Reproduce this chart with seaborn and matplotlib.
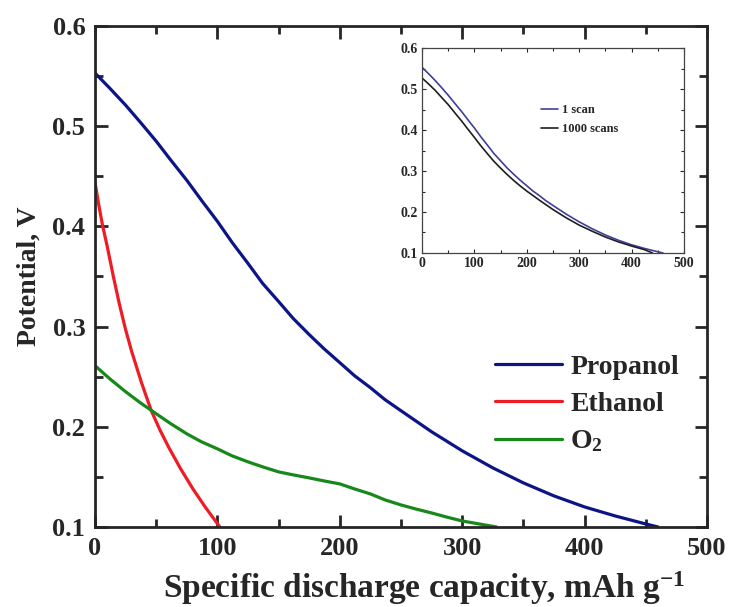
import numpy as np
import pandas as pd
import matplotlib
matplotlib.use('Agg')
import matplotlib.pyplot as plt
from matplotlib.ticker import MultipleLocator
import seaborn as sns

# -----------------------
# data

propanol_x = [0, 12, 25, 37, 50, 62, 75, 87, 100, 112, 125, 137, 150, 162, 175, 187, 200, 212, 225, 237,
	250, 275, 300, 325, 350, 375, 400, 425, 450, 460]
propanol_y = [0.553, 0.538, 0.521, 0.504, 0.485, 0.466, 0.446, 0.426, 0.405, 0.384, 0.363, 0.343, 0.325,
	0.308, 0.292, 0.278, 0.264, 0.251, 0.239, 0.227, 0.216, 0.195, 0.176, 0.159, 0.144, 0.131, 0.120,
	0.111, 0.103, 0.100]

ethanol_x = [0, 3, 6, 10, 15, 20, 25, 30, 38, 46, 53, 60, 70, 80, 90, 102]
ethanol_y = [0.444, 0.422, 0.402, 0.380, 0.350, 0.322, 0.297, 0.275, 0.244, 0.216, 0.197, 0.180,
	0.158, 0.138, 0.120, 0.100]

o2_x = [0, 12, 25, 37, 50, 62, 75, 87, 100, 112, 125, 137, 150, 162, 175, 187, 200, 212, 225, 237,
	250, 262, 275, 287, 300, 314, 328]
o2_y = [0.261, 0.248, 0.235, 0.224, 0.213, 0.203, 0.193, 0.185, 0.178, 0.171, 0.165, 0.160, 0.155,
	0.152, 0.149, 0.146, 0.143, 0.138, 0.133, 0.127, 0.122, 0.118, 0.114, 0.110, 0.106, 0.103, 0.100]

# inset: cycling
scan1_x = propanol_x
scan1_y = propanol_y
scan1000_x = [0, 12, 25, 37, 50, 62, 75, 87, 100, 112, 125, 137, 150, 162, 175, 187, 200, 225,
	250, 275, 300, 325, 350, 375, 400, 425, 440]
scan1000_y = [0.527, 0.513, 0.497, 0.480, 0.462, 0.443, 0.423, 0.403, 0.382, 0.362, 0.342, 0.324,
	0.307, 0.292, 0.277, 0.264, 0.251, 0.228, 0.206, 0.186, 0.168, 0.153, 0.139, 0.127, 0.117,
	0.108, 0.100]

# -----------------------

sns.set_style('ticks')
plt.rcParams['font.family'] = ['Liberation Serif', 'DejaVu Serif']
plt.rcParams['font.weight'] = 'bold'
plt.rcParams['mathtext.fontset'] = 'custom'
plt.rcParams['mathtext.rm'] = 'Liberation Serif:bold'
plt.rcParams['mathtext.it'] = 'Liberation Serif:bold'
plt.rcParams['mathtext.bf'] = 'Liberation Serif:bold'
plt.rcParams['axes.linewidth'] = 2.0

def to_df(series):
	parts = []
	for name, xs, ys in series:
		parts.append(pd.DataFrame({'cap': xs, 'pot': ys, 'fuel': name}))
	return pd.concat(parts, ignore_index=True)

df = to_df([('Propanol', propanol_x, propanol_y),
	('Ethanol', ethanol_x, ethanol_y),
	('O$_2$', o2_x, o2_y)])

df_in = to_df([('1 scan', scan1_x, scan1_y),
	('1000 scans', scan1000_x, scan1000_y)])

fig = plt.figure(figsize=(7.33, 6.07), dpi=100)
ax = fig.add_axes([0.1296, 0.1318, 0.835, 0.8254])

palette = {'Propanol': '#0c1585', 'Ethanol': '#ee1c24', 'O$_2$': '#17881a'}
sns.lineplot(data=df, x='cap', y='pot', hue='fuel', palette=palette, lw=2.3, ax=ax,
	sort=False, estimator=None)

ax.set_xlim(0, 500)
ax.set_ylim(0.1, 0.6)
ax.xaxis.set_major_locator(MultipleLocator(100))
ax.xaxis.set_minor_locator(MultipleLocator(50))
ax.yaxis.set_major_locator(MultipleLocator(0.1))
ax.yaxis.set_minor_locator(MultipleLocator(0.05))
ax.tick_params(which='both', direction='in', top=True, right=True, width=2, labelsize=19, pad=7)
ax.tick_params(which='major', length=9)
ax.tick_params(which='minor', length=6)
ax.set_xlabel('Specific discharge capacity, mAh g$^{-1}$', fontsize=24, fontweight='bold')
ax.xaxis.set_label_coords(0.537, -0.085)
ax.xaxis.label.set_va('top')
ax.set_ylabel('Potential, V', fontsize=20, fontweight='bold', labelpad=8)
for s in ax.spines.values():
	s.set_linewidth(2.0)

handles, labels = ax.get_legend_handles_labels()
leg = ax.legend(handles, labels, loc='lower right', bbox_to_anchor=(0.995, 0.095), frameon=False,
	fontsize=20, handlelength=2.4, handletextpad=0.3, labelspacing=0.42)
for line in leg.get_lines():
	line.set_linewidth(2.3)

# -----------------------
# inset

axi = fig.add_axes([0.5757, 0.5832, 0.3574, 0.3377])
pal_in = {'1 scan': '#3f3f9a', '1000 scans': '#1e1e1e'}
sns.lineplot(data=df_in, x='cap', y='pot', hue='fuel', palette=pal_in, lw=1.2, ax=axi,
	sort=False, estimator=None)
axi.set_xlim(0, 500)
axi.set_ylim(0.1, 0.6)
axi.xaxis.set_major_locator(MultipleLocator(100))
axi.xaxis.set_minor_locator(MultipleLocator(50))
axi.yaxis.set_major_locator(MultipleLocator(0.1))
axi.yaxis.set_minor_locator(MultipleLocator(0.05))
axi.tick_params(which='both', direction='in', top=True, right=True, width=0.8, labelsize=10, pad=3)
axi.tick_params(which='major', length=3)
axi.tick_params(which='minor', length=2)
axi.set_xlabel('')
axi.set_ylabel('')
for s in axi.spines.values():
	s.set_linewidth(0.9)
	s.set_color('#444444')

h2, l2 = axi.get_legend_handles_labels()
leg2 = axi.legend(h2, l2, loc='upper left', bbox_to_anchor=(0.41, 0.78), frameon=False,
	fontsize=9, handlelength=1.4, handletextpad=0.3, labelspacing=0.55)

plt.savefig('out.png', dpi=100)
